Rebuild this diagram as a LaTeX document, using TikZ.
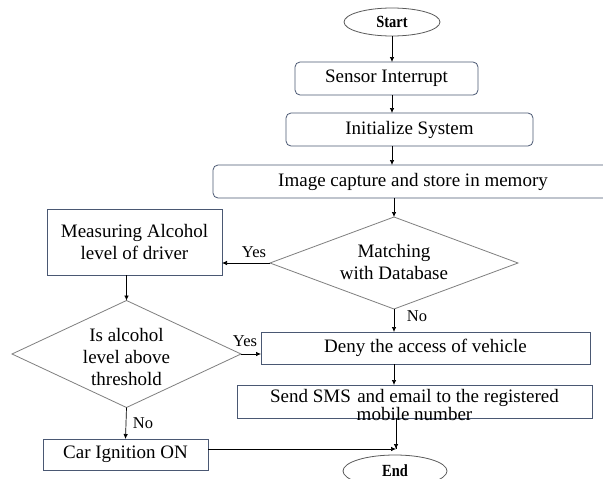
\documentclass[tikz,border=0pt]{standalone}
\usepackage{fontspec}
\setmainfont{Liberation Serif}
\usetikzlibrary{shapes.geometric,arrows.meta}
\definecolor{boxc}{HTML}{4A5873}
\definecolor{dmc}{HTML}{7F7F7F}
\definecolor{elc}{HTML}{5A5A5A}
\tikzset{
  x=1pt,y=-1pt,
  every node/.style={inner sep=0pt,outer sep=0pt},
  txt/.style={font=\fontsize{19}{22}\selectfont,align=center},
  rbox/.style={txt,draw=boxc,line width=0.8pt,rounded corners=5pt},
  sbox/.style={txt,draw=boxc,line width=0.8pt},
  oval/.style={draw=elc,line width=0.8pt,ellipse,font=\fontsize{17}{19}\selectfont\bfseries},
  lbl/.style={font=\fontsize{16.5}{18}\selectfont},
  arr/.style={-{Latex[length=5pt,width=4.5pt]},line width=0.7pt,black},
  ln/.style={line width=0.7pt,black}
}
\begin{document}
\begin{tikzpicture}
\useasboundingbox (0,0) rectangle (603,479);
\clip (0,0) rectangle (603,479);
\fill[white] (0,0) rectangle (603,479);
% nodes
\node[oval,minimum width=96pt,minimum height=28pt] (start) at (392,22) {\scalebox{0.85}[1]{Start}};
\node[rbox,minimum width=183pt,minimum height=33pt] (sensor) at (386.5,78.5) {Sensor Interrupt};
\node[rbox,minimum width=247pt,minimum height=33pt] (init) at (409.5,129.5) {Initialize System};
\node[rbox,minimum width=400pt,minimum height=33pt] (capture) at (413,181.5) {Image capture and store in memory};
\node[draw=dmc,line width=0.8pt,diamond,minimum width=248pt,minimum height=92pt] (match) at (394,263) {};
\node[txt] at (394,262) {Matching\\with Database};
\node[sbox,minimum width=175pt,minimum height=66pt] (measure) at (134.5,242) {Measuring Alcohol\\level of driver};
\node[draw=dmc,line width=0.8pt,diamond,minimum width=229pt,minimum height=107pt] (alc) at (126.5,354) {};
\node[txt] at (126.5,357) {Is alcohol\\level above\\threshold};
\node[sbox,minimum width=329pt,minimum height=32pt] (deny) at (425.5,348) {Deny the access of vehicle};
\node[sbox,minimum width=355pt,minimum height=33pt] (send) at (414.5,401.5) {};
\node[txt,font=\fontsize{19}{16}\selectfont] at (414.5,405) {Send SMS\,\,and email to the registered\\mobile number};
\node[sbox,minimum width=165pt,minimum height=31pt] (car) at (125.5,454.5) {Car Ignition ON};
\node[oval,minimum width=104pt,minimum height=32pt] (end) at (395,471) {\scalebox{0.85}[1]{End}};
\coordinate (join) at (396,449);
% connectors
\draw[arr] (start.south) -- (start.south |- sensor.north);
\draw[arr] (start.south |- sensor.south) -- (start.south |- init.north);
\draw[arr] (start.south |- init.south) -- (start.south |- capture.north);
\draw[arr] (match.north |- capture.south) -- (match.north);
\draw[arr] (match.west) -- (match.west -| measure.east);
\node[lbl] at (254,252) {Yes};
\draw[arr] (alc.north |- measure.south) -- (alc.north);
\draw[arr] (match.south) -- (match.south |- deny.north);
\node[lbl] at (417,316) {No};
\draw[arr] (alc.east) -- (alc.east -| deny.west);
\node[lbl] at (245,341) {Yes};
\draw[arr] (match.south |- deny.south) -- (match.south |- send.north);
\draw[arr] (alc.south) -- (car.north);
\node[lbl] at (143,423) {No};
\draw[ln] (join |- send.south) -- (join);
\draw[arr] (car.east |- join) -- (join);
\draw[arr] (396,440) -- (join);
\end{tikzpicture}
\end{document}
